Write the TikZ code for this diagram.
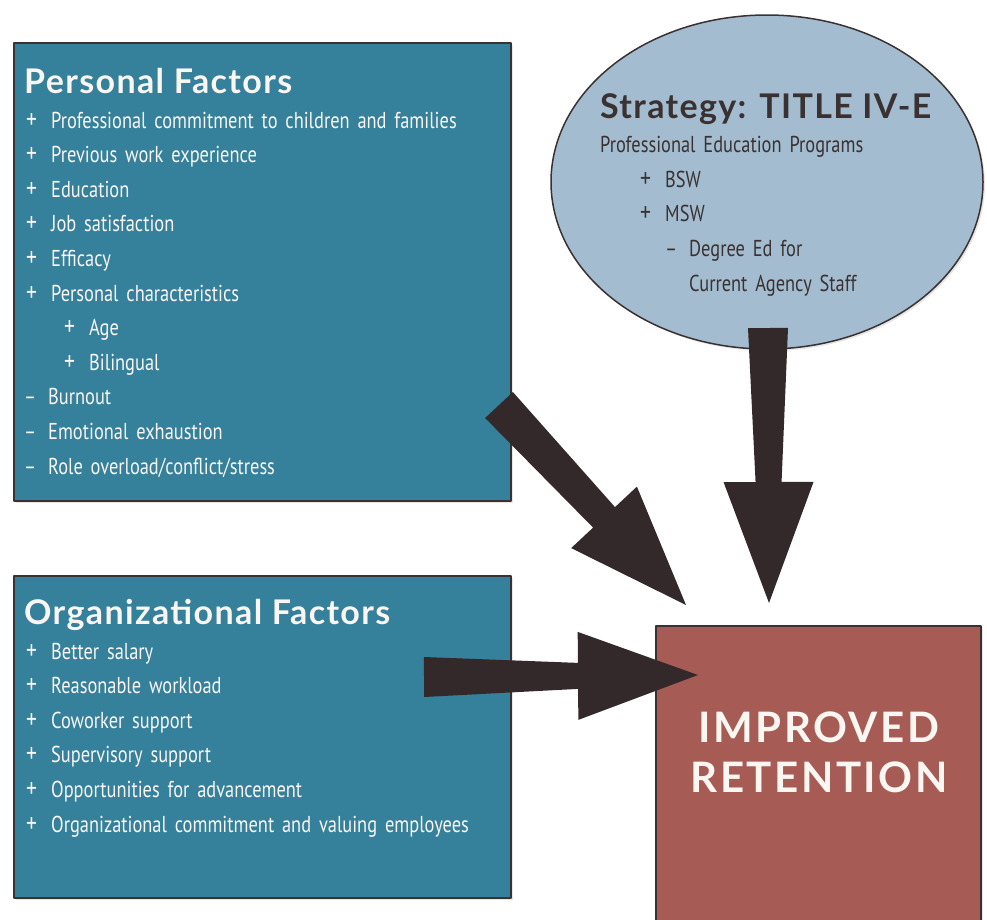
\documentclass[tikz,border=0pt]{standalone}
\usepackage{fontspec}
\setmainfont{PT Sans}
\newfontfamily\listfont{PT Sans}[FakeStretch=0.8, WordSpace=1.6]
\newfontfamily\headfont{Lato}[LetterSpace=4]
\newfontfamily\bigheadfont{Lato}[LetterSpace=6]
\usetikzlibrary{shapes.geometric,positioning,calc,shadows}
\definecolor{factorblue}{HTML}{35809B}
\definecolor{strategyblue}{HTML}{A3BCCF}
\definecolor{retentionred}{HTML}{A65C55}
\definecolor{arrowbrown}{HTML}{33292A}
\definecolor{boxline}{HTML}{3A3232}
\definecolor{lighttext}{HTML}{FAF6F2}
\definecolor{darktext}{HTML}{3A3232}

\begin{document}
\begin{tikzpicture}[x=1pt, y=-1pt, line join=round,
    softshadow/.style={drop shadow={opacity=0.2, shadow xshift=2pt, shadow yshift=-2pt}},
    factorbox/.style={draw=boxline, line width=1.5pt, fill=factorblue, anchor=north west, inner sep=0pt, softshadow},
    strategybox/.style={ellipse, draw=boxline, line width=1.5pt, fill=strategyblue, inner sep=0pt, softshadow},
    retentionbox/.style={draw=boxline, line width=1.5pt, fill=retentionred, anchor=north west, inner sep=0pt, softshadow},
    listtext/.style={anchor=north west, align=left, inner sep=0pt, font=\listfont\fontsize{23}{34.6}\selectfont},
    arrowfill/.style={fill=arrowbrown}]
  \def\hd#1{{\headfont\bfseries\fontsize{34}{34.6}\selectfont #1}}
  \def\pl{\hspace*{2pt}\makebox[25pt][l]{\fontsize{27}{34.6}\selectfont+}}
  \def\mi{\makebox[24pt][l]{\textendash}}
  % block arrow: start, tip, half width at start, at neck, of head, head length
  \def\fatarrow#1#2#3#4#5#6{%
    \coordinate (neck) at ($(#2)!#6!(#1)$);
    \fill[arrowfill] ($(#1)!#3!90:(#2)$) -- ($(neck)!#4!90:(#2)$) -- ($(neck)!#5!90:(#2)$) -- (#2)
      -- ($(neck)!#5!-90:(#2)$) -- ($(neck)!#4!-90:(#2)$) -- ($(#1)!#3!-90:(#2)$) -- cycle;}
  \useasboundingbox (0,0) rectangle (987,919);

  % boxes
  \node[factorbox, minimum width=497, minimum height=458] (personal) at (13,42) {};
  \node[factorbox, minimum width=497, minimum height=322] (orgf) at (13,575) {};
  \node[strategybox, minimum width=432, minimum height=334] (strategy) at (767,182) {};
  \node[retentionbox, minimum width=325, minimum height=330] (retention) at (655,625) {};

  % texts
  \node[listtext, text=lighttext] (personal-list) at (24,68) {%
    \hd{Personal Factors}\\
    \pl Professional commitment to children and families\\
    \pl Previous work experience\\
    \pl Education\\
    \pl Job satisfaction\\
    \pl Efficacy\\
    \pl Personal characteristics\\
    \hspace*{38pt}\pl Age\\
    \hspace*{38pt}\pl Bilingual\\
    \mi Burnout\\
    \mi Emotional exhaustion\\
    \mi Role overload/conflict/stress};
  \node[listtext, text=lighttext] (orgf-list) at (24,599) {%
    \hd{Organizational Factors}\\
    \pl Better salary\\
    \pl Reasonable workload\\
    \pl Coworker support\\
    \pl Supervisory support\\
    \pl Opportunities for advancement\\
    \pl Organizational commitment and valuing employees};
  \node[listtext, text=darktext] (strategy-list) at (600,93) {%
    \hd{Strategy: TITLE IV-E}\\
    Professional Education Programs\\
    \hspace*{38pt}\pl BSW\\
    \hspace*{38pt}\pl MSW\\
    \hspace*{65pt}\mi Degree Ed for\\
    \hspace*{89pt}Current Agency Staff};
  \node[text=lighttext, align=center, font=\bigheadfont\bfseries\fontsize{42}{50}\selectfont]
    (retention-text) at (819,752) {IMPROVED\\RETENTION};

  % arrows into retention
  \coordinate (pf-out) at (499,405);
  \coordinate (st-out) at (768,328);
  \coordinate (of-out) at (424,677);
  \coordinate (ret-in1) at (686,605);
  \coordinate (ret-in2) at (769,603);
  \coordinate (ret-in3) at (698,675);
  \fatarrow{pf-out}{ret-in1}{19pt}{15pt}{45pt}{120pt}
  \fatarrow{st-out}{ret-in2}{20pt}{13pt}{45pt}{121pt}
  \fatarrow{of-out}{ret-in3}{20pt}{13pt}{44pt}{120pt}
\end{tikzpicture}
\end{document}
